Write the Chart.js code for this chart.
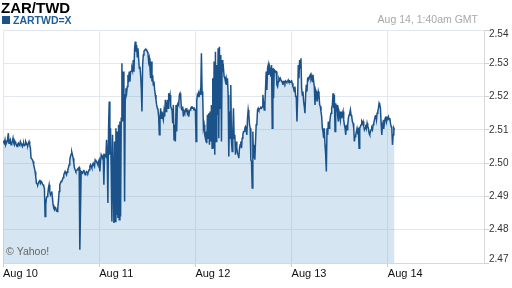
<!DOCTYPE html>
<html>
<head>
<meta charset="utf-8">
<script src="https://cdn.jsdelivr.net/npm/chart.js@4.4.1/dist/chart.umd.min.js"></script>
<style>
  html, body { margin: 0; padding: 0; background: #fff; }
  canvas { display: block; }
</style>
</head>
<body>
<canvas id="fx_chart" width="512" height="288"></canvas>
<script>
const pairTitle = 'ZAR/TWD';
const symbol = 'ZARTWD=X';
const stampText = 'Aug 14, 1:40am GMT';
const creditText = '\u00a9 Yahoo!';
const dayLabels = ['Aug 10', 'Aug 11', 'Aug 12', 'Aug 13', 'Aug 14'];
const yTicks = [2.47, 2.48, 2.49, 2.50, 2.51, 2.52, 2.53, 2.54];
const stepMinutes = 10; // one quote every 10 minutes from Aug 10 00:00 GMT

const rates = [
  // Aug 10 00:00 ->
  2.5067,2.5063,2.5060,2.5070,2.5055,2.5060,2.5065,2.5075,2.5090,2.5060,
  2.5065,2.5070,2.5055,2.5060,2.5065,2.5075,2.5060,2.5055,2.5065,2.5060,
  2.5055,2.5050,2.5057,2.5060,2.5055,2.5053,2.5065,2.5060,2.5055,2.5050,
  2.5057,2.5060,2.5053,2.5055,2.5065,2.5060,2.5055,2.5053,2.5060,2.5065,
  2.5055,2.5045,2.5015,2.5013,2.5010,2.5005,2.4995,2.4985,2.4975,2.4960,
  2.4940,2.4937,2.4935,2.4940,2.4945,2.4950,2.4940,2.4945,2.4943,2.4937,
  2.4935,2.4930,2.4925,2.4840,2.4875,2.4895,2.4900,2.4905,2.4925,2.4935,
  2.4915,2.4905,2.4910,2.4915,2.4895,2.4875,2.4865,2.4860,2.4867,2.4865,
  2.4857,2.4855,2.4865,2.4885,2.4915,2.4935,2.4940,2.4945,2.4947,2.4950,
  2.4957,2.4965,2.4970,2.4975,2.4970,2.4965,2.4973,2.4980,2.4987,2.4995,
  2.5010,2.5020,2.5027,2.5033,2.5025,2.5015,2.5000,2.4985,2.4980,2.4975,
  2.4977,2.4980,2.4983,2.4985,2.4987,2.4740,
  // Aug 10 19:20 ->
  2.4857,2.4975,2.4973,2.4970,2.4975,2.4980,2.4970,2.4965,2.4970,2.4975,
  2.4973,2.4970,2.4975,2.4980,2.4990,2.4995,2.4990,2.4985,2.4995,2.5000,
  2.4995,2.4990,2.5010,2.5007,2.5005,2.5000,2.4995,2.5005,2.5010,2.4975,
  2.5005,2.5025,2.5020,2.5015,2.5020,2.4935,2.5025,2.5023,2.5020,2.5070,
  2.5025,2.4880,2.5105,2.5185,2.5025,2.5105,2.4975,2.4825,2.5085,2.4955,
  2.4820,2.5065,2.4825,2.5105,2.4845,2.5095,2.4835,2.5115,2.4830,2.5125,
  2.4840,2.5135,2.5300,2.5125,2.5275,2.5205,2.4885,2.5205,2.5225,2.5210,
  2.5230,2.5265,2.5255,2.5275,2.5245,2.5275,2.5277,2.5285,2.5277,2.5310,
  2.5275,2.5345,2.5365,2.5335,2.5355,2.5320,2.5345,2.5315,2.5285,2.5290,
  2.5265,2.5225,2.5155,2.5295,2.5325,2.5335,2.5340,2.5340,2.5342,2.5340,
  2.5335,2.5330,2.5305,2.5315,2.5285,2.5255,2.5305,2.5245,2.5265,2.5235,
  2.5245,2.5220,2.5205,2.5190,2.5175,2.5165,2.5160,2.5140,2.5085,2.5135,
  // Aug 11 15:20 ->
  2.5165,2.5135,2.5155,2.5140,2.5130,2.5155,2.5140,2.5190,2.5155,2.5170,
  2.5190,2.5165,2.5210,2.5195,2.5205,2.5170,2.5165,2.5160,2.5120,2.5175,
  2.5070,2.5115,2.5065,2.5175,2.5095,2.5175,2.5180,2.5175,2.5205,2.5210,
  2.5200,2.5165,2.5160,2.5170,2.5140,2.5155,2.5150,2.5160,2.5155,2.5165,
  2.5150,2.5155,2.5140,2.5155,2.5160,2.5165,2.5168,2.5165,2.5167,2.5165,
  2.5160,2.5163,2.5160,2.5065,2.5187,2.5205,2.5200,2.5210,2.5205,2.5215,
  2.5205,2.5330,2.5215,2.5200,2.5105,2.5115,2.5085,2.5075,2.5095,2.5060,
  2.5145,2.5075,2.5150,2.5055,2.5155,2.5065,2.5175,2.5045,2.5255,2.5045,
  2.5305,2.5025,2.5335,2.5065,2.5295,2.5145,2.5345,2.5075,2.5350,2.5165,
  2.5325,2.5065,2.5310,2.5275,2.5285,2.5260,2.5255,2.5245,2.5255,2.5235,
  2.5255,2.5205,2.5020,2.5155,2.5075,2.5235,2.5065,2.5035,2.5095,2.5165,
  2.5075,2.5085,2.5025,2.5065,2.5045,2.5030,2.5025,2.5015,2.5045,2.5055,
  // Aug 12 11:20 ->
  2.5065,2.5045,2.5075,2.5085,2.5095,2.5095,2.5105,2.5110,2.5105,2.5085,
  2.5135,2.5160,2.5145,2.5115,2.5105,2.5010,2.5005,2.4925,2.5095,2.5015,
  2.5055,2.5010,2.5065,2.5115,2.5120,2.5160,2.5165,2.5160,2.5163,2.5165,
  2.5167,2.5165,2.5169,2.5205,2.5180,2.5160,2.5175,2.5225,2.5275,2.5220,
  2.5285,2.5295,2.5265,2.5290,2.5280,2.5260,2.5295,2.5105,2.5285,2.5195,
  2.5280,2.5277,2.5275,2.5275,2.5235,2.5230,2.5245,2.5255,2.5250,2.5255,
  2.5255,2.5245,2.5245,2.5235,2.5245,2.5245,2.5240,2.5247,2.5245,2.5243,
  2.5245,2.5250,2.5245,2.5247,2.5243,2.5245,2.5247,2.5240,2.5230,2.5225,
  2.5215,2.5230,2.5200,2.5200,2.5125,2.5195,2.5295,2.5255,2.5310,2.5285,
  2.5315,2.5225,2.5205,2.5215,2.5185,2.5170,2.5150,2.5205,2.5235,2.5215,
  2.5255,2.5257,2.5255,2.5260,2.5265,2.5255,2.5263,2.5245,2.5265,2.5245,
  2.5230,2.5175,2.5220,2.5215,2.5185,2.5195,2.5215,2.5205,2.5175,2.5170,
  // Aug 13 07:20 ->
  2.5155,2.5140,2.5105,2.5095,2.5075,2.5105,2.5055,2.5025,2.4975,2.5105,
  2.5085,2.5125,2.5105,2.5120,2.5140,2.5150,2.5165,2.5175,2.5210,2.5165,
  2.5205,2.5095,2.5180,2.5155,2.5175,2.5140,2.5125,2.5155,2.5145,2.5130,
  2.5155,2.5135,2.5145,2.5155,2.5130,2.5115,2.5105,2.5085,2.5115,2.5100,
  2.5115,2.5135,2.5145,2.5150,2.5160,2.5145,2.5140,2.5125,2.5120,2.5105,
  2.5065,2.5080,2.5085,2.5095,2.5105,2.5095,2.5100,2.5045,2.5105,2.5110,
  2.5115,2.5125,2.5120,2.5125,2.5110,2.5100,2.5105,2.5115,2.5105,2.5120,
  2.5110,2.5105,2.5090,2.5085,2.5095,2.5100,2.5105,2.5100,2.5115,2.5120,
  2.5130,2.5140,2.5145,2.5130,2.5150,2.5155,2.5165,2.5180,2.5175,2.5165,
  2.5120,2.5085,2.5115,2.5105,2.5130,2.5120,2.5135,2.5140,2.5125,2.5137,
  2.5135,2.5140,2.5130,2.5135,2.5120,2.5110,2.5105,2.5055,2.5085,2.5105,2.5100
];

const fontFamily = '"Liberation Sans", Arial, Helvetica, sans-serif';
const lineBlue = '#1b528a';
const gridColor = '#e3e8ee';

const points = rates.map((r, i) => ({ x: i * stepMinutes, y: r }));

// header, legend swatch, credit text and the y labels (end labels kept inside the plot)
const headerText = {
  id: 'headerText',
  afterDraw(chart) {
    const ctx = chart.ctx;
    const ds = chart.data.datasets[0];
    ctx.save();
    ctx.textBaseline = 'alphabetic';
    ctx.textAlign = 'left';
    ctx.fillStyle = '#000';
    ctx.font = 'bold 15px ' + fontFamily;
    ctx.fillText(pairTitle, 1, 12.5);

    ctx.fillStyle = lineBlue;
    ctx.fillRect(2, 16, 8, 8);
    ctx.fillStyle = '#215d99';
    ctx.font = 'bold 10.5px ' + fontFamily;
    ctx.fillText(ds.label, 13, 24);

    ctx.fillStyle = '#a8a8a8';
    ctx.font = '10.5px ' + fontFamily;
    ctx.textAlign = 'right';
    ctx.fillText(stampText, 478, 23);

    ctx.textAlign = 'left';
    ctx.fillStyle = '#666';
    ctx.fillText(creditText, 6, 255);

    const ys = chart.scales.y;
    ctx.fillStyle = '#333';
    ctx.font = '10px ' + fontFamily;
    ctx.textBaseline = 'middle';
    yTicks.forEach(v => {
      let py = ys.getPixelForValue(v);
      py = Math.min(Math.max(py, ys.top + 4), ys.bottom - 4);
      ctx.fillText(v.toFixed(2), ys.left + 5, py);
    });
    ctx.restore();
  }
};

new Chart(document.getElementById('fx_chart'), {
  type: 'line',
  data: {
    datasets: [{
      label: symbol,
      data: points,
      borderColor: lineBlue,
      borderWidth: 1.5,
      backgroundColor: 'rgba(100, 160, 205, 0.27)',
      fill: 'start',
      pointRadius: 0,
      tension: 0
    }]
  },
  options: {
    responsive: false,
    animation: false,
    devicePixelRatio: 1,
    layout: { padding: { top: 30, left: 3, right: 0, bottom: 0 } },
    plugins: {
      legend: { display: false },
      title: { display: false },
      tooltip: { enabled: false }
    },
    scales: {
      x: {
        type: 'linear',
        min: 0,
        max: dayLabels.length * 1440,
        afterBuildTicks: (scale) => {
          scale.ticks = dayLabels.map((_, i) => ({ value: i * 1440 }));
        },
        afterFit: (scale) => { scale.height = 25; },
        ticks: {
          align: 'start',
          padding: 0,
          maxRotation: 0,
          autoSkip: false,
          color: '#111',
          font: { family: fontFamily, size: 11 },
          callback: (v) => dayLabels[Math.round(v / 1440)] || ''
        },
        grid: { color: gridColor, tickLength: 4, tickColor: '#d0d0d0' },
        border: { color: '#d8d8d8' }
      },
      y: {
        position: 'right',
        min: 2.47,
        max: 2.54,
        afterBuildTicks: (scale) => {
          scale.ticks = yTicks.map(v => ({ value: v }));
        },
        afterFit: (scale) => { scale.width = 28; },
        ticks: {
          display: false
        },
        grid: { color: gridColor, tickLength: 5, tickColor: '#d0d0d0' },
        border: { color: '#d8d8d8' }
      }
    }
  },
  plugins: [headerText]
});
</script>
</body>
</html>
